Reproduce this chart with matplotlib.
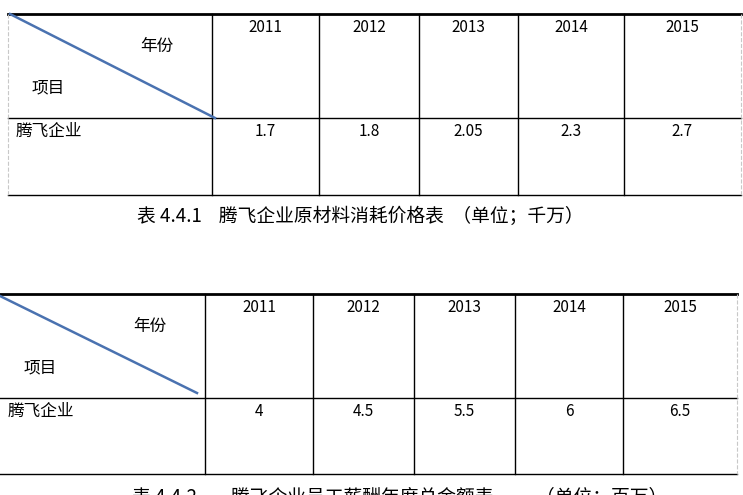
import matplotlib.pyplot as plt

plt.rcParams['font.family'] = ['Noto Sans CJK SC', 'DejaVu Sans']

years = ["2011", "2012", "2013", "2014", "2015"]
row_label = "腾飞企业"
material_cost = ["1.7", "1.8", "2.05", "2.3", "2.7"]
salary_total = ["4", "4.5", "5.5", "6", "6.5"]
caption1 = "表 4.4.1    腾飞企业原材料消耗价格表  （单位；千万）"
caption2 = "表 4.4.2        腾飞企业员工薪酬年度总金额表          （单位：百万）"

W, H = 743, 495
fig = plt.figure(figsize=(W / 100, H / 100), dpi=100)
ax = fig.add_axes([0, 0, 1, 1])
ax.set_xlim(0, W)
ax.set_ylim(H, 0)
ax.axis("off")


def draw_table(xs, ys, values, diag, left_dashed=False):
    # horizontal lines
    for y in ys:
        ax.plot([xs[0], xs[-1]], [y, y], color="black", lw=2.0 if y == ys[0] else 1.0)
    for x in xs[1:-1]:
        ax.plot([x, x], [ys[0], ys[-1]], color="black", lw=1.0)
    # faint dashed outer edges
    ax.plot([xs[-1], xs[-1]], [ys[0], ys[-1]], color="#c8c8c8", lw=0.8, ls="--")
    if left_dashed:
        ax.plot([xs[0], xs[0]], [ys[0], ys[-1]], color="#c8c8c8", lw=0.8, ls="--")
    ax.plot(diag[0], diag[1], color="#4a72b0", lw=1.8)
    ax.text(xs[1] - 55, ys[0] + 32, "年份", fontsize=12, ha="center", va="center")
    ax.text(xs[0] + 40, ys[0] + 74, "项目", fontsize=12, ha="center", va="center")
    ax.text(xs[0] + 8, ys[1] + 13, row_label, fontsize=12, ha="left", va="center")
    for i, (yr, v) in enumerate(zip(years, values)):
        cx = (xs[i + 1] + xs[i + 2]) / 2
        ax.text(cx, ys[0] + 13, yr, fontsize=11, ha="center", va="center")
        ax.text(cx, ys[1] + 13, v, fontsize=11, ha="center", va="center")


draw_table([8, 212, 319, 419, 518, 624, 741], [14, 118, 195], material_cost,
           ([10, 215], [14, 118]), left_dashed=True)
ax.text(360, 216, caption1, fontsize=13.5, ha="center", va="center")

draw_table([0, 205, 313, 414, 515, 623, 737], [294, 398, 474], salary_total,
           ([0, 197], [296, 393]))
ax.text(400, 497, caption2, fontsize=13.5, ha="center", va="center", clip_on=False)

fig.savefig("out.png", dpi=100)
